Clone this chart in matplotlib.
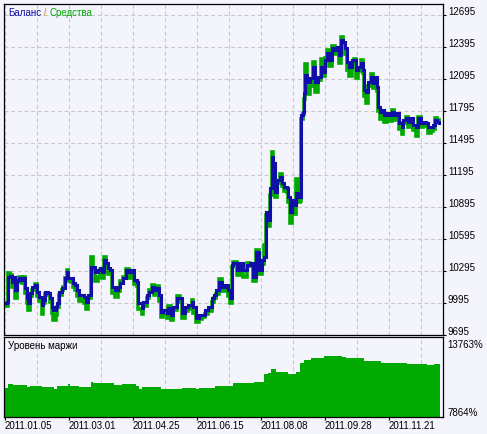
import matplotlib
matplotlib.use("Agg")
import matplotlib.pyplot as plt
import numpy as np

plt.rcParams['font.family'] = ['Liberation Sans', 'DejaVu Sans']

# bar numbers (x) with balance / equity
bars = [0, 3, 4, 6, 8, 10, 11, 13, 15, 18,
        19, 21, 23, 24, 26, 28, 31, 33, 35, 38,
        39, 41, 44, 46, 48, 49, 52, 53, 55, 58,
        59, 61, 63, 64, 67, 69, 71, 73, 75, 78,
        80, 82, 84, 87, 89, 91, 94, 96, 98, 100,
        102, 104, 106, 108, 111, 114, 116, 119, 122, 125,
        128, 130, 133, 134, 138, 139, 143, 145, 148, 150,
        153, 155, 157, 159, 163, 164, 167, 169, 173, 176,
        178, 181, 184, 188, 189, 192, 195, 198, 201, 204,
        208, 210, 212, 215, 218, 221, 224, 226, 228, 229,
        233, 236, 239, 243, 246, 249, 252, 255, 258, 260,
        262, 264, 266, 268, 269, 271, 273, 276, 278, 280,
        283, 284, 286, 288, 290, 292, 294, 296, 297, 299,
        300, 301, 303, 306, 309, 311, 314, 317, 319, 321,
        323, 325, 328, 331, 333, 335, 337, 339, 341, 343,
        345, 348, 350, 352, 354, 357, 359, 360, 362, 364,
        367, 369, 371, 373, 374, 376, 379, 380, 383, 385,
        388, 390, 392, 395, 398, 399, 402, 404, 407, 409,
        412, 414, 417, 419, 422, 424, 427, 429, 431, 433, 435]

balance = [9988, 9998, 10232, 10241, 10185, 10232, 10110, 10204, 10223, 10204,
           10223, 10129, 10035, 9988, 10082, 10138, 10157, 10091, 10045, 9970,
           10016, 10091, 10082, 10035, 9951, 9923, 9951, 9988, 10091, 10129,
           10129, 10223, 10279, 10223, 10223, 10176, 10157, 10110, 10063, 10063,
           10045, 9998, 10063, 10326, 10326, 10279, 10298, 10317, 10279, 10391,
           10363, 10317, 10298, 10138, 10110, 10138, 10176, 10223, 10298, 10279,
           10298, 10204, 10185, 9988, 9941, 9998, 10063, 10091, 10138, 10110,
           10129, 10063, 9904, 9923, 9895, 9941, 9876, 9951, 10035, 10035,
           9895, 9951, 9970, 9998, 9951, 9848, 9876, 9876, 9923, 9951,
           10035, 10063, 10110, 10185, 10138, 10157, 10110, 10035, 10345, 10363,
           10298, 10363, 10298, 10345, 10363, 10232, 10467, 10298, 10391, 10420,
           10841, 10766, 11066, 11357, 11301, 11029, 11141, 11170, 11113, 11076,
           11066, 10982, 10841, 10954, 10907, 11020, 10982, 10982, 11751, 11779,
           11957, 12126, 12060, 12098, 12201, 12060, 12107, 12201, 12154, 12266,
           12332, 12266, 12379, 12360, 12388, 12313, 12454, 12435, 12379, 12248,
           12201, 12266, 12266, 12173, 12201, 12238, 12173, 11985, 11966, 12060,
           12107, 12051, 12107, 12013, 11826, 11779, 11798, 11751, 11770, 11751,
           11779, 11751, 11770, 11676, 11638, 11704, 11723, 11685, 11723, 11657,
           11638, 11723, 11676, 11685, 11676, 11638, 11638, 11657, 11704, 11685, 11676]

equity = [9960, 9960, 10270, 10250, 10140, 10215, 10035, 10190, 10240, 10180,
          10240, 10090, 9990, 9925, 10060, 10110, 10170, 10060, 10010, 9890,
          9990, 10080, 10070, 10000, 9900, 9830, 9880, 9950, 10070, 10110,
          10140, 10230, 10300, 10200, 10190, 10140, 10110, 10060, 10010, 10030,
          9990, 9940, 10040, 10420, 10290, 10200, 10240, 10300, 10230, 10420,
          10330, 10260, 10270, 10090, 10050, 10100, 10200, 10240, 10310, 10230,
          10280, 10170, 10150, 9940, 9890, 9960, 10040, 10110, 10160, 10070,
          10150, 10010, 9860, 9890, 9850, 9960, 9830, 9930, 10060, 10000,
          9850, 9920, 9940, 10020, 9900, 9810, 9840, 9860, 9890, 9920,
          10000, 10040, 10080, 10220, 10100, 10140, 10060, 9990, 10330, 10380,
          10250, 10340, 10240, 10370, 10340, 10200, 10490, 10260, 10360, 10540,
          10820, 10710, 11000, 11410, 11250, 10990, 11120, 11200, 11090, 11040,
          11030, 10940, 10740, 10920, 10830, 11150, 10940, 10950, 11720, 11760,
          11900, 12230, 11950, 12030, 12250, 11970, 12080, 12280, 12120, 12290,
          12360, 12210, 12400, 12330, 12360, 12240, 12490, 12430, 12330, 12180,
          12120, 12240, 12280, 12100, 12170, 12270, 12150, 11930, 11870, 12030,
          12140, 12010, 12080, 11980, 11790, 11720, 11760, 11690, 11740, 11700,
          11800, 11710, 11740, 11620, 11580, 11680, 11740, 11640, 11700, 11610,
          11560, 11740, 11640, 11660, 11650, 11590, 11600, 11620, 11730, 11710, 11690]

# margin level, %
margin_bars = [0, 4, 9, 23, 26, 38, 50, 53, 64, 66, 75, 87, 89, 110, 118,
               132, 135, 138, 157, 170, 178, 192, 195, 211, 229, 250, 260,
               264, 267, 272, 284, 292, 296, 300, 307, 320, 338, 342, 360,
               377, 403, 423, 430, 436]
margin = [10002, 10319, 10246, 10076, 10172, 10076, 9951, 10172, 10319, 10172,
          10076, 10445, 10371, 10270, 10319, 10172, 9951, 10076, 9978, 9930,
          10027, 9914, 10002, 10172, 10371, 10494, 11034, 11130, 11403, 11230,
          11034, 11230, 11846, 12089, 12212, 12384, 12335, 12212, 12040, 11846,
          11800, 11750, 11800, 11800]

date_bars = [1, 65, 129, 193, 257, 321, 385]
date_labels = ['2011.01.05', '2011.03.01', '2011.04.25', '2011.06.15',
               '2011.08.08', '2011.09.28', '2011.11.21']
grid_bars = np.arange(1, 430, 32)
price_ticks = np.arange(9695, 12696, 300)
margin_lo, margin_hi = 7864, 13763

bg = '#F4F4FC'
blue = '#1010A8'
green = '#00A800'
gridc = '#C8C8CC'

fig = plt.figure(figsize=(4.87, 4.34), dpi=100, facecolor=bg)
ax = fig.add_axes([4.3 / 487, 1 - 334.7 / 434, 438.4 / 487, 330.4 / 434], facecolor=bg)
ax2 = fig.add_axes([4.3 / 487, 1 - 417.3 / 434, 438.4 / 487, 80 / 434], facecolor=bg)

# main panel
ax.plot(bars, equity, color=green, lw=2.6, drawstyle='steps-post', solid_joinstyle='miter')
ax.plot(bars, balance, color=blue, lw=2.2, drawstyle='steps-post', solid_joinstyle='miter')
ax.set_xlim(0.3, 438.7)
ax.set_ylim(9695, 12792)
ax.set_xticks(grid_bars)
ax.set_yticks(price_ticks)
ax.tick_params(axis='x', length=0, labelbottom=False)
ax.tick_params(axis='y', left=False, labelleft=False, right=True, labelright=True,
               direction='out', length=2.2, width=0.8, pad=1.5, labelsize=7)
for t in ax.get_yticklabels():
    t.set_verticalalignment('baseline')
ax.grid(True, color=gridc, lw=0.8, linestyle=(0, (3.5, 2.5)))
ax.set_axisbelow(True)

t1 = ax.annotate('Баланс', xy=(0, 1), xycoords='axes fraction', xytext=(3.5, -4),
                 textcoords='offset pixels', ha='left', va='top', fontsize=7, color=blue)
t2 = ax.annotate(' / ', xy=(1, 0), xycoords=t1, ha='left', va='bottom', fontsize=7, color='#D08000')
ax.annotate('Средства', xy=(1, 0), xycoords=t2, ha='left', va='bottom', fontsize=7, color=green)

# margin level panel
ax2.fill_between(margin_bars, margin_lo, margin, step='post', color='#00AA00', lw=0)
ax2.set_xlim(0.3, 438.7)
ax2.set_ylim(margin_lo, margin_hi)
ax2.set_yticks([])
ax2.set_xticks(date_bars)
ax2.set_xticklabels(date_labels, ha='left', fontsize=7)
ax2.set_xticks(grid_bars, minor=True)
ax2.tick_params(axis='x', which='major', direction='out', length=2.5, width=0.8, pad=0.5)
ax2.tick_params(axis='x', which='minor', length=0)
ax2.grid(True, which='minor', axis='x', color=gridc, lw=0.8, linestyle=(0, (3.5, 2.5)))
ax2.set_axisbelow(True)
ax2.annotate('Уровень маржи', xy=(0, 1), xycoords='axes fraction', xytext=(3.5, -3.5),
             textcoords='offset pixels', ha='left', va='top', fontsize=7)
ax2.annotate('%d%%' % margin_hi, xy=(1, 1), xycoords='axes fraction', xytext=(4.5, -3),
             textcoords='offset pixels', ha='left', va='top', fontsize=7)
ax2.annotate('%d%%' % margin_lo, xy=(1, 0), xycoords='axes fraction', xytext=(4.5, 1.5),
             textcoords='offset pixels', ha='left', va='baseline', fontsize=7)

for a in (ax, ax2):
    for s in a.spines.values():
        s.set_color('black')
        s.set_linewidth(0.9)

fig.savefig('out.png', dpi=100, facecolor=bg)
